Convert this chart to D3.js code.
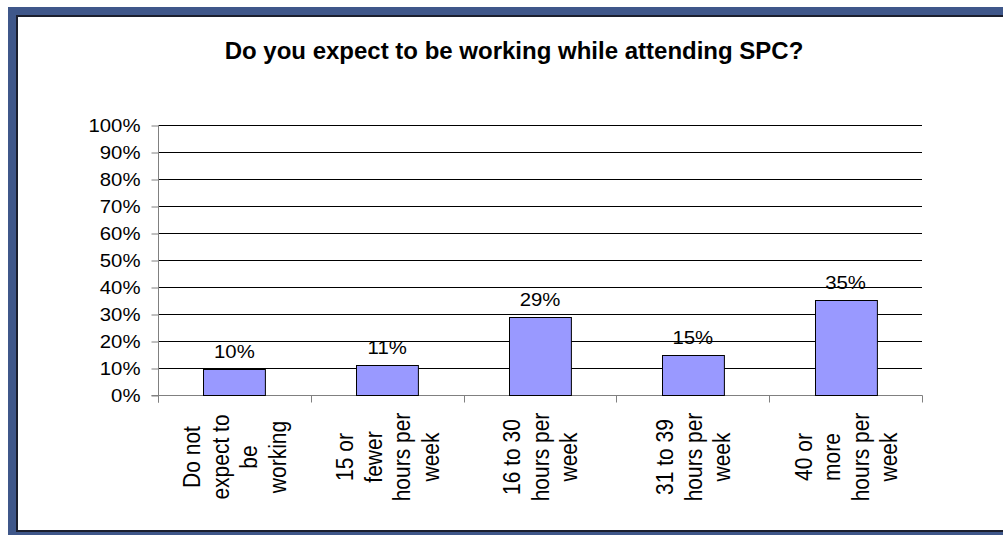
<!DOCTYPE html>
<html>
<head>
<meta charset="utf-8">
<script src="https://cdn.jsdelivr.net/npm/d3@7"></script>
<style>
  html, body { margin: 0; padding: 0; background: #ffffff; }
  svg { display: block; }
  text { font-family: "Liberation Sans", Arial, sans-serif; fill: #000; }
</style>
</head>
<body>
<svg id="chart" width="1003" height="535"></svg>
<script>
// Survey responses: expected weekly work hours while attending SPC
const categories = [
  ["Do not", "expect to", "be", "working"],
  ["15 or", "fewer", "hours per", "week"],
  ["16 to 30", "hours per", "week"],
  ["31 to 39", "hours per", "week"],
  ["40 or", "more", "hours per", "week"]
];
const shares = [0.095, 0.111, 0.289, 0.148, 0.353];
const yTicks = [0, 0.1, 0.2, 0.3, 0.4, 0.5, 0.6, 0.7, 0.8, 0.9, 1.0];
const title = "Do you expect to be working while attending SPC?";

const W = 1003, H = 535;
const svg = d3.select("#chart");
const stretch = 1.15; // horizontal glyph stretch used for axis and value labels

// Frame: blue border with dark inner edge
svg.append("rect").attr("x", 8).attr("y", 7).attr("width", W).attr("height", H)
  .attr("fill", "#3f578a");
svg.append("rect").attr("x", 16).attr("y", 15).attr("width", W).attr("height", 517)
  .attr("fill", "#1b1f2e");
svg.append("rect").attr("x", 18).attr("y", 17).attr("width", W).attr("height", 513)
  .attr("fill", "#ffffff");

const plot = { left: 158, right: 922, top: 125, bottom: 395 };
const keys = categories.map(c => c.join(" "));

const xCat = d3.scaleBand().domain(keys).range([plot.left, plot.right]);
const xBar = d3.scaleBand().domain(keys).range([plot.left, plot.right])
  .paddingInner(0.595).paddingOuter(0.2975);
const y = d3.scaleLinear().domain([0, 1]).range([plot.bottom, plot.top]);

// Title
svg.append("text")
  .attr("x", 514).attr("y", 59)
  .attr("text-anchor", "middle")
  .attr("font-size", 24).attr("font-weight", "bold")
  .text(title);

// Horizontal gridlines
svg.append("g")
  .selectAll("line")
  .data(yTicks.filter(t => t > 0))
  .join("line")
  .attr("x1", plot.left).attr("x2", plot.right)
  .attr("y1", d => Math.round(y(d)) + 0.5).attr("y2", d => Math.round(y(d)) + 0.5)
  .attr("stroke", "#000").attr("stroke-width", 1);

// Y axis
const yAxis = svg.append("g")
  .attr("transform", `translate(${plot.left + 0.5},0.5)`)
  .call(d3.axisLeft(y).tickValues(yTicks).tickSize(7).tickFormat(""));
yAxis.selectAll("path, line").attr("stroke", "#808080");
yAxis.select(".domain").attr("d", `M0,${plot.top - 0.5}V${plot.bottom + 7}`);

yAxis.selectAll(".tick").each(function(d) {
  d3.select(this).append("g")
    .attr("transform", `translate(-18,0) scale(${stretch},1)`)
    .append("text")
    .attr("text-anchor", "end")
    .attr("dy", "0.36em")
    .attr("font-size", 17.7)
    .text(d3.format(".0%")(d));
});

// X axis baseline with ticks at category boundaries
const bounds = keys.map(k => xCat(k)).concat([plot.right]);
const xg = svg.append("g").attr("transform", "translate(0.5,0.5)");
xg.append("line")
  .attr("x1", plot.left - 7).attr("x2", plot.right)
  .attr("y1", plot.bottom).attr("y2", plot.bottom)
  .attr("stroke", "#808080");
xg.selectAll("line.tk")
  .data(bounds)
  .join("line").attr("class", "tk")
  .attr("x1", d => Math.round(d)).attr("x2", d => Math.round(d))
  .attr("y1", plot.bottom).attr("y2", plot.bottom + 7)
  .attr("stroke", "#808080");

// Bars
svg.append("g")
  .selectAll("rect")
  .data(shares)
  .join("rect")
  .attr("x", (d, i) => Math.round(xBar(keys[i])) + 0.5)
  .attr("y", d => Math.round(y(d)) + 0.5)
  .attr("width", xBar.bandwidth())
  .attr("height", d => Math.round(y(0)) - Math.round(y(d)))
  .attr("fill", "#9999ff")
  .attr("stroke", "#000").attr("stroke-width", 1);

// Value labels above bars
svg.append("g")
  .selectAll("g")
  .data(shares)
  .join("g")
  .attr("transform", (d, i) =>
    `translate(${xBar(keys[i]) + xBar.bandwidth() / 2},${y(d) - 11}) scale(${stretch},1)`)
  .append("text")
  .attr("text-anchor", "middle")
  .attr("font-size", 17.7)
  .text(d => d3.format(".0%")(d));

// Category labels, rotated and wrapped
const lineGap = 24.8;
const catG = svg.append("g")
  .selectAll("g")
  .data(categories)
  .join("g")
  .attr("transform", (d, i) =>
    `translate(${xCat(keys[i]) + xCat.bandwidth() / 2},457) scale(${stretch},1) rotate(-90)`);
catG.each(function(lines) {
  const g = d3.select(this);
  const n = lines.length;
  g.selectAll("text")
    .data(lines)
    .join("text")
    .attr("x", 0)
    .attr("y", (d, j) => (j - (n - 1) / 2) * lineGap)
    .attr("dy", "0.36em")
    .attr("text-anchor", "middle")
    .attr("font-size", 21)
    .text(d => d);
});
</script>
</body>
</html>
